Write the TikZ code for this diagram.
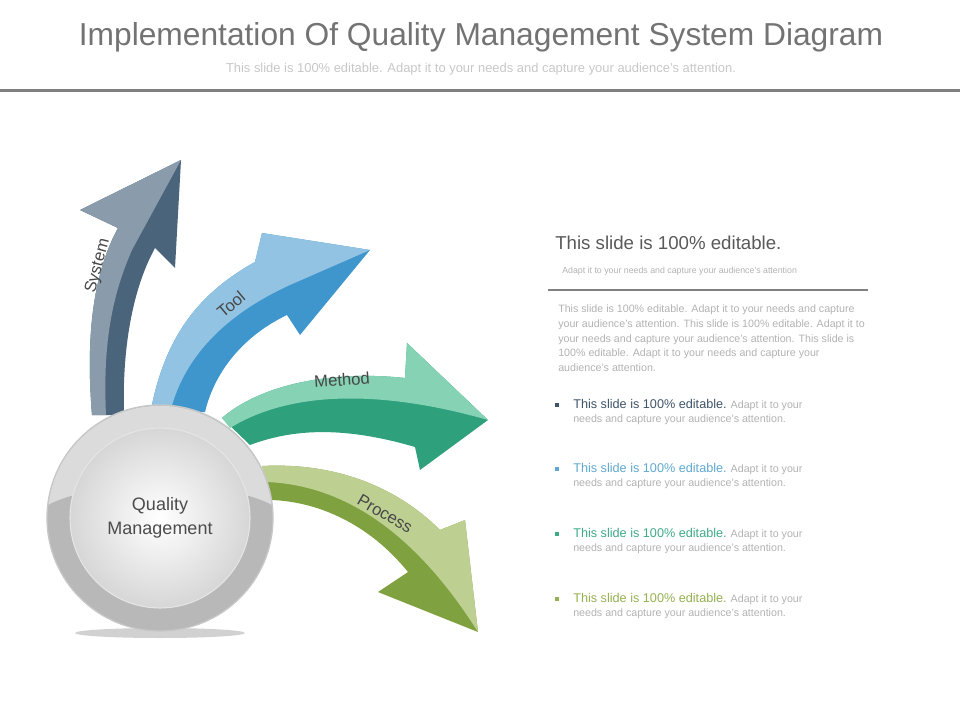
\documentclass[tikz,border=0pt]{standalone}
\usepackage{fontspec}
\setmainfont{Liberation Sans}
\definecolor{sysD}{HTML}{4A647C}
\definecolor{sysL}{HTML}{8A9BAB}
\definecolor{toolD}{HTML}{3E96CC}
\definecolor{toolL}{HTML}{92C3E2}
\definecolor{methD}{HTML}{2FA07C}
\definecolor{methL}{HTML}{86D2B4}
\definecolor{procD}{HTML}{7FA140}
\definecolor{procL}{HTML}{BDD092}
\definecolor{b1}{HTML}{3E5468}
\definecolor{b2}{HTML}{5FA8CF}
\definecolor{b3}{HTML}{3DAA88}
\definecolor{b4}{HTML}{95B050}
\begin{document}
\begin{tikzpicture}[x=0.75pt,y=-0.75pt,
  lbl/.style={font=\fontsize{12.5}{14}\selectfont,text=black!72,inner sep=1pt},
  para/.style={font=\fontsize{8}{10.9}\selectfont,text=black!30,align=left,anchor=north west,inner sep=0pt},
  bl/.style={anchor=north west,inner sep=0pt,align=left,font=\fontsize{8}{10.9}\selectfont,text=black!30},
  sq/.style={minimum size=3.5pt,inner sep=0pt}]
\useasboundingbox (0,0) rectangle (960,720);
% header
\node (title) at (481,37) {\fontsize{23.8}{26}\selectfont\color{black!55}Implementation Of Quality Management System Diagram};
\node (sub) at (481,69) {\fontsize{9.7}{11}\selectfont\color{black!22}This slide is 100\% editable. Adapt it to your needs and capture your audience's attention.};
\fill[black!50] (0,89) rectangle (960,92.5);
% shadow
\fill[black!30,opacity=0.6] (160,633) ellipse (85 and 5);
% System arrow
\fill[sysD] (92,415) .. controls (85,330) and (95,270) .. (118,228) -- (80,210) -- (181,160) -- (175,268) -- (155,248) .. controls (132,290) and (122,350) .. (124,415) -- cycle;
\fill[sysL] (92,415) .. controls (85,330) and (95,270) .. (118,228) -- (80,210) -- (181,160) -- (132,250) .. controls (110,300) and (103,350) .. (106,415) -- cycle;
% Tool arrow
\fill[toolD] (150,415) .. controls (165,330) and (205,290) .. (255,262) -- (262,233) -- (370,250) -- (300,335) -- (287,315) .. controls (245,335) and (215,370) .. (205,412) -- cycle;
\fill[toolL] (150,415) .. controls (165,330) and (205,290) .. (255,262) -- (262,233) -- (370,250) -- (290,285) .. controls (235,310) and (185,350) .. (170,413) -- cycle;
% Method arrow
\fill[methD] (222,418) .. controls (260,385) and (330,370) .. (405,378) -- (407,343) -- (488,420) -- (420,470) -- (415,447) .. controls (340,425) and (290,430) .. (250,445) -- cycle;
\fill[methL] (222,418) .. controls (260,385) and (330,370) .. (405,378) -- (407,343) -- (488,420) .. controls (400,395) and (300,385) .. (230,428) -- cycle;
% Process arrow
\fill[procD] (262,466) .. controls (340,462) and (400,490) .. (440,530) -- (465,520) -- (478,632) -- (378,592) -- (408,572) .. controls (370,525) and (320,502) .. (272,500) -- cycle;
\fill[procL] (262,466) .. controls (340,462) and (400,490) .. (440,530) -- (465,520) -- (478,632) .. controls (420,540) and (350,485) .. (266,482) -- cycle;
% labels
\node[lbl,rotate=75] (lsys) at (98,266) {System};
\node[lbl,rotate=40] (ltool) at (231,304) {Tool};
\node[lbl,rotate=4] (lmeth) at (342,380) {Method};
\node[lbl,rotate=-30] (lproc) at (385,514) {Process};
% circle
\fill[black!28] (160,518) circle (113);
\fill[black!14] (272.5,505) .. controls (220,478) and (100,478) .. (47.5,505) arc (-173:-7:113) -- cycle;
\draw[black!22,line width=1pt] (160,518) circle (113);
\shade[inner color=white,outer color=black!16] (160,518) circle (90);
\draw[black!10,line width=0.8pt] (160,518) circle (90);
\node[align=center,font=\fontsize{13.5}{18}\selectfont,text=black!70] (qm) at (160,518) {Quality\\Management};
% right text
\node[anchor=west,inner sep=0pt,font=\fontsize{14}{16}\selectfont,text=black!65] (h) at (555,243) {This slide is 100\% editable.};
\node[anchor=west,inner sep=0pt,font=\fontsize{6.6}{8}\selectfont,text=black!30] (h2) at (562,271) {Adapt it to your needs and capture your audience's attention};
\draw[black!50,line width=0.8pt] (548,290) -- (868,290);
\node[para] (p) at (558,305) {This slide is 100\% editable. Adapt it to your needs and capture\\your audience's attention. This slide is 100\% editable. Adapt it to\\your needs and capture your audience's attention. This slide is\\100\% editable. Adapt it to your needs and capture your\\audience's attention.};
\foreach \y/\c [count=\i] in {399/b1, 463/b2, 528/b3, 593/b4}{
  \node[sq,fill=\c] (b\i) at (557,\y+6) {};
  \node[bl] (t\i) at (573,\y) {{\fontsize{9.5}{11}\selectfont\color{\c}This slide is 100\% editable.} Adapt it to your\\needs and capture your audience's attention.};
}
\end{tikzpicture}
\end{document}
